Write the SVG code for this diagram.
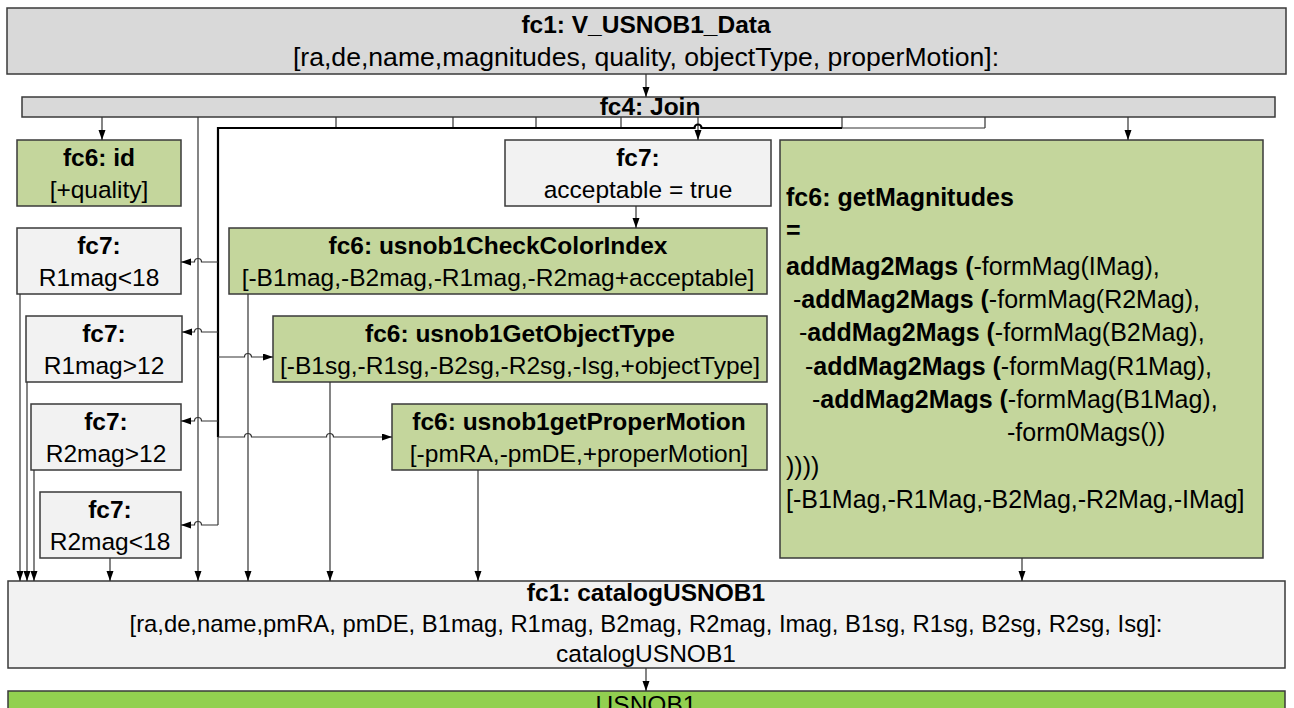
<svg xmlns="http://www.w3.org/2000/svg" width="1294" height="708" viewBox="0 0 1294 708">
  <defs>
    <marker id="arrow" markerUnits="userSpaceOnUse" markerWidth="10" markerHeight="8" refX="10" refY="3.5" orient="auto">
      <path d="M0,0 L10,3.5 L0,7 z" fill="#000"/>
    </marker>
    <style>
      text { font-family: "Liberation Sans", Arial, sans-serif; font-size: 24.5px; fill: #000; }
      .b { font-weight: bold; }
      .c { text-anchor: middle; }
      .big { font-size: 26.6px; }
      .mag { font-size: 25px; }
      .gray { fill: #d9d9d9; stroke: #3a3a3a; stroke-width: 1.5; }
      .light { fill: #f2f2f2; stroke: #3a3a3a; stroke-width: 1.5; }
      .green { fill: #c4d69c; stroke: #3a3a3a; stroke-width: 1.5; }
      .lime { fill: #92d050; stroke: #3a3a3a; stroke-width: 1.5; }
      .wire { fill: none; stroke: #333; stroke-width: 1.2; }
      .bus { fill: none; stroke: #000; stroke-width: 2.2; }
      .arr { marker-end: url(#arrow); }
    </style>
  </defs>
  <rect width="1294" height="708" fill="#fff"/>

  <!-- source feature class -->
  <g id="fc1-data">
    <rect class="gray" x="7" y="8" width="1279" height="66"/>
    <text class="b c" x="646" y="33">fc1: V_USNOB1_Data</text>
    <text class="c big" x="646" y="66">[ra,de,name,magnitudes, quality, objectType, properMotion]:</text>
  </g>

  <g id="fc4-join">
    <rect class="gray" x="22" y="97" width="1253" height="20"/>
    <text class="b c" x="650" y="115">fc4: Join</text>
  </g>

  <g id="fc6-id">
    <rect class="green" x="17" y="140" width="164" height="66"/>
    <text class="b c" x="99" y="166">fc6: id</text>
    <text class="c" x="99" y="198">[+quality]</text>
  </g>

  <g id="fc7-r1-lt18">
    <rect class="light" x="17" y="228" width="164" height="66"/>
    <text class="b c" x="99" y="254">fc7:</text>
    <text class="c" x="99" y="286">R1mag&lt;18</text>
  </g>

  <g id="fc7-r1-gt12">
    <rect class="light" x="26" y="316" width="156" height="66"/>
    <text class="b c" x="104" y="342">fc7:</text>
    <text class="c" x="104" y="374">R1mag&gt;12</text>
  </g>

  <g id="fc7-r2-gt12">
    <rect class="light" x="31" y="404" width="150" height="66"/>
    <text class="b c" x="106" y="430">fc7:</text>
    <text class="c" x="106" y="462">R2mag&gt;12</text>
  </g>

  <g id="fc7-r2-lt18">
    <rect class="light" x="40" y="492" width="141" height="66"/>
    <text class="b c" x="110" y="518">fc7:</text>
    <text class="c" x="110" y="550">R2mag&lt;18</text>
  </g>

  <g id="fc7-acceptable">
    <rect class="light" x="505" y="140" width="266" height="66"/>
    <text class="b c" x="638" y="166">fc7:</text>
    <text class="c" x="638" y="198">acceptable = true</text>
  </g>

  <g id="fc6-check-color">
    <rect class="green" x="229" y="228" width="538" height="66"/>
    <text class="b c" x="498" y="254">fc6: usnob1CheckColorIndex</text>
    <text class="c" x="498" y="286">[-B1mag,-B2mag,-R1mag,-R2mag+acceptable]</text>
  </g>

  <g id="fc6-object-type">
    <rect class="green" x="273" y="316" width="494" height="66"/>
    <text class="b c" x="520" y="342">fc6: usnob1GetObjectType</text>
    <text class="c" x="520" y="374">[-B1sg,-R1sg,-B2sg,-R2sg,-Isg,+objectType]</text>
  </g>

  <g id="fc6-proper-motion">
    <rect class="green" x="392" y="404" width="375" height="66"/>
    <text class="b c" x="579" y="430">fc6: usnob1getProperMotion</text>
    <text class="c" x="579" y="462">[-pmRA,-pmDE,+properMotion]</text>
  </g>

  <g id="fc6-magnitudes">
    <rect class="green" x="780" y="140" width="483" height="418"/>
    <text class="b mag" x="786" y="206">fc6: getMagnitudes</text>
    <text class="b mag" x="786" y="239">=</text>
    <text class="mag" x="786" y="275"><tspan class="b">addMag2Mags (</tspan>-formMag(IMag),</text>
    <text class="mag" x="793" y="308">-<tspan class="b">addMag2Mags (</tspan>-formMag(R2Mag),</text>
    <text class="mag" x="799" y="341">-<tspan class="b">addMag2Mags (</tspan>-formMag(B2Mag),</text>
    <text class="mag" x="805" y="375">-<tspan class="b">addMag2Mags (</tspan>-formMag(R1Mag),</text>
    <text class="mag" x="812" y="408">-<tspan class="b">addMag2Mags (</tspan>-formMag(B1Mag),</text>
    <text class="mag" x="1007" y="441">-form0Mags())</text>
    <text class="mag" x="786" y="475">))))</text>
    <text class="mag" x="786" y="508">[-B1Mag,-R1Mag,-B2Mag,-R2Mag,-IMag]</text>
  </g>

  <g id="fc1-catalog">
    <rect class="light" x="8" y="581" width="1277" height="87"/>
    <text class="b c" x="646" y="601">fc1: catalogUSNOB1</text>
    <text class="c" x="646" y="632" style="font-size:23.8px">[ra,de,name,pmRA, pmDE, B1mag, R1mag, B2mag, R2mag, Imag, B1sg, R1sg, B2sg, R2sg, Isg]:</text>
    <text class="c" x="646" y="662">catalogUSNOB1</text>
  </g>

  <g id="usnob1">
    <rect class="lime" x="8" y="691" width="1277" height="30"/>
    <text class="c" x="646" y="713">USNOB1</text>
  </g>

  <g id="connectors">
    <path class="wire arr" d="M646,74 V97"/>
    <path class="wire arr" d="M102,117 V140"/>
    <path class="wire arr" d="M1128,117 V140"/>
    <path class="wire arr" d="M698,117 V140"/>
    <path class="wire arr" d="M636,206 V228"/>

    <!-- join outputs gathered on a shared bus -->
    <path class="wire" d="M336,117 V128 M453,117 V128 M536,117 V128 M621,117 V128 M842,117 V128 M985,117 V128"/>
    <path class="wire" d="M985,128 H842"/>
    <path class="bus" d="M842,128 H701.5 A3.5,3.5 0 0 0 694.5,128 H217"/>
    <path class="bus" d="M218,127 V437"/>
    <path class="wire" d="M218,437 V525"/>

    <!-- bus branches to the filters -->
    <path class="wire arr" d="M218,262 H201.5 A3.5,3.5 0 0 0 194.5,262 H181"/>
    <path class="wire arr" d="M218,332 H201.5 A3.5,3.5 0 0 0 194.5,332 H182"/>
    <path class="wire arr" d="M218,421 H201.5 A3.5,3.5 0 0 0 194.5,421 H181"/>
    <path class="wire arr" d="M218,525 H201.5 A3.5,3.5 0 0 0 194.5,525 H181"/>
    <path class="wire arr" d="M218,357 H244.5 A3.5,3.5 0 0 1 251.5,357 H273"/>
    <path class="wire arr" d="M218,437 H244.5 A3.5,3.5 0 0 1 251.5,437 H326.5 A3.5,3.5 0 0 1 333.5,437 H392"/>

    <!-- flows into the catalog -->
    <path class="wire arr" d="M198,117 V581"/>
    <path class="wire arr" d="M20,294 V581"/>
    <path class="wire arr" d="M27,382 V581"/>
    <path class="wire arr" d="M34,470 V581"/>
    <path class="wire arr" d="M110,558 V581"/>
    <path class="wire arr" d="M248,294 V581"/>
    <path class="wire arr" d="M330,382 V581"/>
    <path class="wire arr" d="M478,470 V581"/>
    <path class="wire arr" d="M1022,558 V581"/>
    <path class="wire arr" d="M646,668 V691"/>
  </g>
</svg>
